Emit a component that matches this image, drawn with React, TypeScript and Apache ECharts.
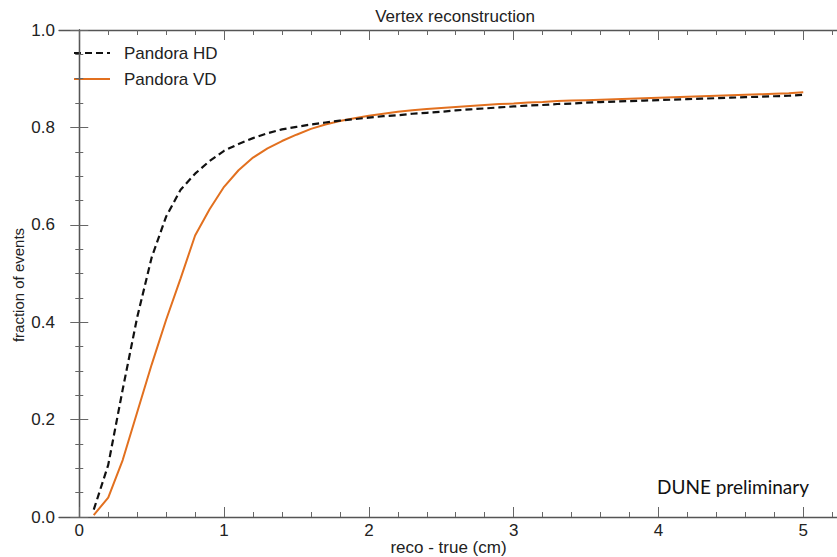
import React, { useEffect, useRef } from "react";
import * as echarts from "echarts";

const xValues = [
  0.1, 0.2, 0.3, 0.4, 0.5, 0.6, 0.7, 0.8, 0.9, 1.0,
  1.1, 1.2, 1.3, 1.4, 1.5, 1.6, 1.7, 1.8, 1.9, 2.0,
  2.1, 2.2, 2.3, 2.4, 2.5, 2.6, 2.7, 2.8, 2.9, 3.0,
  3.1, 3.2, 3.3, 3.4, 3.5, 3.6, 3.7, 3.8, 3.9, 4.0,
  4.1, 4.2, 4.3, 4.4, 4.5, 4.6, 4.7, 4.8, 4.9, 5.0,
];

const hdValues = [
  0.015, 0.107, 0.262, 0.41, 0.533, 0.617, 0.672, 0.705, 0.731, 0.752,
  0.766, 0.778, 0.788, 0.796, 0.801, 0.806, 0.810, 0.814, 0.817, 0.820,
  0.823, 0.825, 0.828, 0.830, 0.832, 0.835, 0.837, 0.839, 0.841, 0.843,
  0.845, 0.846, 0.848, 0.849, 0.851, 0.852, 0.853, 0.854, 0.855, 0.856,
  0.857, 0.858, 0.859, 0.860, 0.861, 0.862, 0.863, 0.864, 0.865, 0.867,
];

const vdValues = [
  0.004, 0.040, 0.117, 0.215, 0.313, 0.405, 0.490, 0.578, 0.632, 0.678,
  0.712, 0.738, 0.757, 0.772, 0.785, 0.797, 0.806, 0.813, 0.819, 0.824,
  0.828, 0.832, 0.835, 0.838, 0.840, 0.842, 0.844, 0.846, 0.848, 0.849,
  0.851, 0.852, 0.854, 0.855, 0.856, 0.857, 0.858, 0.859, 0.860, 0.861,
  0.862, 0.863, 0.864, 0.865, 0.866, 0.867, 0.868, 0.869, 0.870, 0.872,
];

const xMajorTicks = [0, 1, 2, 3, 4, 5];
const xMinorTicks = [
  0.2, 0.4, 0.6, 0.8, 1.2, 1.4, 1.6, 1.8, 2.2, 2.4, 2.6, 2.8,
  3.2, 3.4, 3.6, 3.8, 4.2, 4.4, 4.6, 4.8, 5.2,
];

const seriesNames = ["Pandora HD", "Pandora VD"];
const seriesColors = ["#111111", "#E2701F"];

const FONT = "Liberation Sans, Arial, sans-serif";
const AXIS_COLOR = "#555555";
const TICK_COLOR = "#666666";
const LABEL_COLOR = "#222222";
const X_MIN = -0.14;
const X_MAX = 5.24;
const HD_DASH = [7, 4];

export default function App() {
  const ref = useRef<HTMLDivElement>(null);

  useEffect(() => {
    if (!ref.current) return;
    const chart = echarts.init(ref.current, undefined, { renderer: "svg" });

    const xAxisBase = (position: "bottom" | "top", ticks: number[], len: number, showLine: boolean, showLabel: boolean) => ({
      type: "value",
      position,
      min: X_MIN,
      max: X_MAX,
      axisLine: { show: showLine, onZero: false, lineStyle: { color: AXIS_COLOR, width: 1.3 } },
      axisTick: {
        show: true,
        inside: true,
        length: len,
        customValues: ticks,
        lineStyle: { color: TICK_COLOR, width: 1 },
      },
      axisLabel: {
        show: showLabel,
        customValues: ticks,
        fontSize: 17,
        fontFamily: FONT,
        color: LABEL_COLOR,
        margin: 5,
      },
      splitLine: { show: false },
    });

    const yAxisBase = (position: "left" | "right", showLabel: boolean) => ({
      type: "value",
      position,
      min: 0,
      max: 1,
      interval: 0.2,
      axisLine: { show: true, lineStyle: { color: AXIS_COLOR, width: 1.3 } },
      axisTick: { show: true, inside: true, length: 9, lineStyle: { color: TICK_COLOR, width: 1 } },
      minorTick: { show: true, splitNumber: 4, length: 4, lineStyle: { color: TICK_COLOR, width: 1 } },
      axisLabel: {
        show: showLabel,
        fontSize: 17,
        fontFamily: FONT,
        color: LABEL_COLOR,
        margin: 4,
        formatter: (v: number) => v.toFixed(1),
      },
      splitLine: { show: false },
    });

    const legendGraphics: any[] = [];
    seriesNames.forEach((name, i) => {
      const y = 53 + i * 26;
      legendGraphics.push({
        type: "line",
        shape: { x1: 74, y1: y, x2: 110, y2: y },
        style: {
          stroke: seriesColors[i],
          lineWidth: i === 0 ? 2.2 : 2,
          lineDash: i === 0 ? HD_DASH : null,
        },
      });
      legendGraphics.push({
        type: "text",
        x: 124,
        y,
        style: {
          text: name,
          fontSize: 17,
          fontFamily: FONT,
          fill: LABEL_COLOR,
          align: "left",
          verticalAlign: "middle",
        },
      });
    });

    chart.setOption({
      animation: false,
      backgroundColor: "#ffffff",
      title: {
        text: "Vertex reconstruction",
        left: 450,
        top: 3,
        textAlign: "center",
        textStyle: { fontSize: 17, fontWeight: "normal", fontFamily: FONT, color: LABEL_COLOR },
      },
      grid: { left: 59, top: 30, width: 779, height: 487, containLabel: false, outerBoundsMode: "none" },
      xAxis: [
        xAxisBase("bottom", xMajorTicks, 10, true, true),
        xAxisBase("bottom", xMinorTicks, 5, false, false),
        xAxisBase("top", xMajorTicks, 10, true, false),
        xAxisBase("top", xMinorTicks, 5, false, false),
      ],
      yAxis: [yAxisBase("left", true), yAxisBase("right", false)],
      graphic: [
        ...legendGraphics,
        {
          type: "text",
          x: 448.5,
          y: 547,
          style: {
            text: "reco - true (cm)",
            fontSize: 17,
            fontFamily: FONT,
            fill: LABEL_COLOR,
            align: "center",
            verticalAlign: "middle",
          },
        },
        {
          type: "text",
          x: 18,
          y: 285,
          rotation: Math.PI / 2,
          style: {
            text: "fraction of events",
            fontSize: 15,
            fontFamily: FONT,
            fill: LABEL_COLOR,
            align: "center",
            verticalAlign: "middle",
          },
        },
        {
          type: "text",
          x: 809,
          y: 486,
          style: {
            text: "DUNE preliminary",
            fontSize: 19,
            fontFamily: "Lato, Open Sans, sans-serif",
            fill: "#111111",
            align: "right",
            verticalAlign: "middle",
          },
        },
      ],
      series: [
        {
          name: seriesNames[0],
          type: "line",
          xAxisIndex: 0,
          yAxisIndex: 0,
          data: xValues.map((x, i) => [x, hdValues[i]]),
          symbol: "none",
          lineStyle: { color: seriesColors[0], width: 2.2, type: HD_DASH },
          itemStyle: { color: seriesColors[0] },
          z: 3,
        },
        {
          name: seriesNames[1],
          type: "line",
          xAxisIndex: 0,
          yAxisIndex: 0,
          data: xValues.map((x, i) => [x, vdValues[i]]),
          symbol: "none",
          lineStyle: { color: seriesColors[1], width: 2 },
          itemStyle: { color: seriesColors[1] },
          z: 2,
        },
      ],
    });

    return () => chart.dispose();
  }, []);

  return (
    <div
      ref={ref}
      style={{ position: "absolute", left: 0, top: 0, width: 837, height: 557 }}
    />
  );
}
